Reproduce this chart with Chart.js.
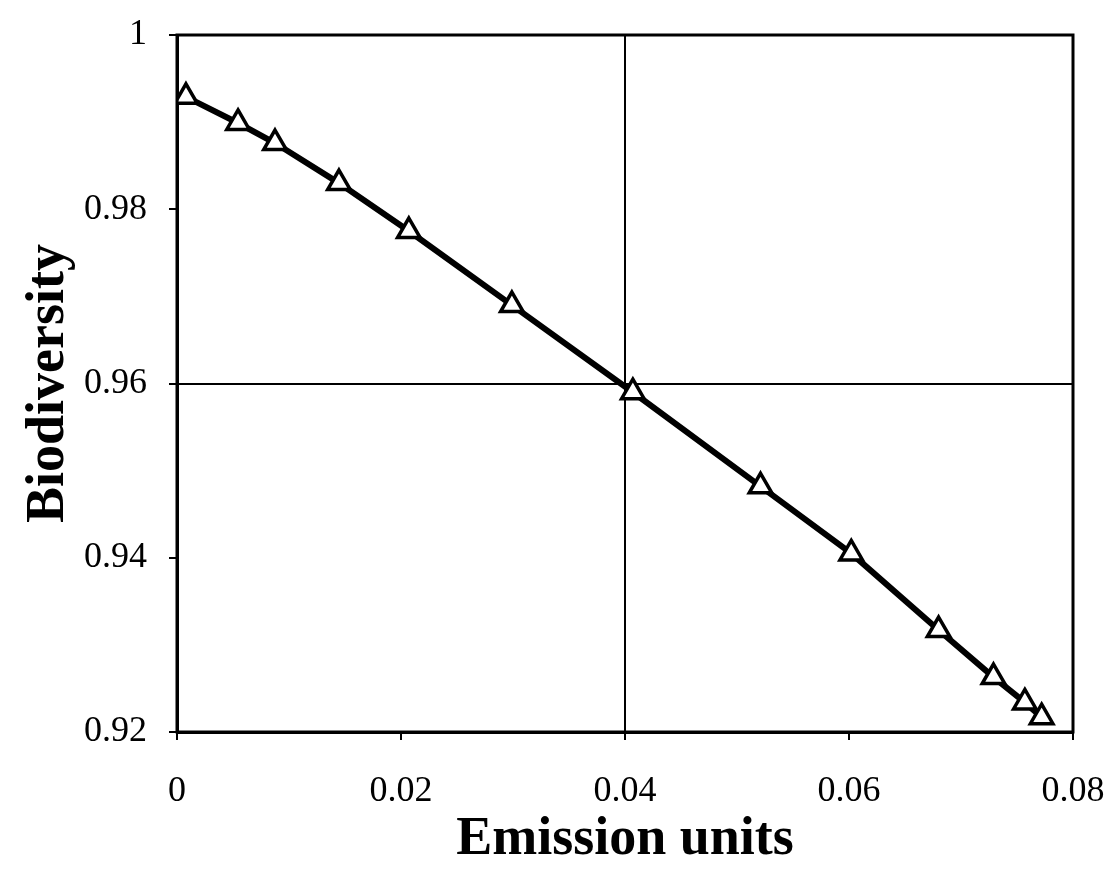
<!DOCTYPE html>
<html>
<head>
<meta charset="utf-8">
<script src="https://cdn.jsdelivr.net/npm/chart.js@4/dist/chart.umd.min.js"></script>
<style>
  html,body{margin:0;padding:0;background:#fff;}
  #wrap{width:1111px;height:875px;}
</style>
</head>
<body>
<div id="wrap"><canvas id="c" width="1111" height="875"></canvas></div>
<script>
// values
const emission=[0.0008,0.00545,0.00875,0.01446,0.0207,0.0299,0.0407,0.0521,0.0602,0.0680,0.0729,0.0757,0.0772];
const biodiversity=[0.9929,0.9899,0.9876,0.9830,0.9775,0.9690,0.9590,0.9482,0.9405,0.9317,0.9263,0.9234,0.9217];
const xTicks=[0,0.02,0.04,0.06,0.08];
const yTicks=[0.92,0.94,0.96,0.98,1];

const fmt=v=>{ if(Math.abs(v)<1e-9) return '0'; if(Math.abs(v-1)<1e-9) return '1'; return v.toFixed(2); };
const near=(a,b)=>Math.abs(a-b)<1e-6;

// box round the plot area
const frame={
  id:'frame',
  afterDraw(chart){
    const {ctx,chartArea:a}=chart;
    ctx.save(); ctx.strokeStyle='#000'; ctx.lineWidth=3;
    ctx.strokeRect(a.left,a.top,a.right-a.left,a.bottom-a.top);
    ctx.restore();
  }
};

new Chart(document.getElementById('c'),{
  type:'scatter',
  data:{datasets:[{
    data:emission.map((x,i)=>({x,y:biodiversity[i]})),
    showLine:true,borderColor:'#000',borderWidth:6,tension:0,
    pointStyle:'triangle',pointRadius:13,pointHoverRadius:13,
    pointBackgroundColor:'#fff',pointBorderColor:'#000',pointBorderWidth:3.5
  }]},
  options:{
    responsive:false,animation:false,
    layout:{padding:{left:0,right:38,top:35,bottom:0}},
    plugins:{legend:{display:false},tooltip:{enabled:false}},
    scales:{
      x:{
        type:'linear',min:0,max:0.08,
        afterBuildTicks:s=>{s.ticks=xTicks.map(v=>({value:v}));},
        afterFit:s=>{s.height=143; s.paddingLeft=0; s.paddingRight=0;},
        ticks:{callback:fmt,color:'#000',padding:30,maxRotation:0,
          font:{family:'"Liberation Serif","Times New Roman",serif',size:36}},
        grid:{color:c=>c.tick&&near(c.tick.value,0.04)?'#000':'rgba(0,0,0,0)',lineWidth:2,
          tickColor:'#000',tickLength:8,tickWidth:2},
        border:{display:true,color:'#000',width:3},
        title:{display:true,text:'Emission units',color:'#000',padding:{top:0,bottom:3},
          font:{family:'"Liberation Serif","Times New Roman",serif',size:54,weight:'bold'}}
      },
      y:{
        type:'linear',min:0.92,max:1,
        afterBuildTicks:s=>{s.ticks=yTicks.map(v=>({value:v}));},
        afterFit:s=>{s.width=177; s.paddingTop=0; s.paddingBottom=0;},
        ticks:{callback:fmt,color:'#000',padding:22,
          font:{family:'"Liberation Serif","Times New Roman",serif',size:36}},
        grid:{color:c=>c.tick&&near(c.tick.value,0.96)?'#000':'rgba(0,0,0,0)',lineWidth:2,
          tickColor:'#000',tickLength:8,tickWidth:2},
        border:{display:true,color:'#000',width:3},
        title:{display:true,text:'Biodiversity',color:'#000',padding:{top:17,bottom:0},
          font:{family:'"Liberation Serif","Times New Roman",serif',size:54,weight:'bold'}}
      }
    }
  },
  plugins:[frame]
});
</script>
</body>
</html>
